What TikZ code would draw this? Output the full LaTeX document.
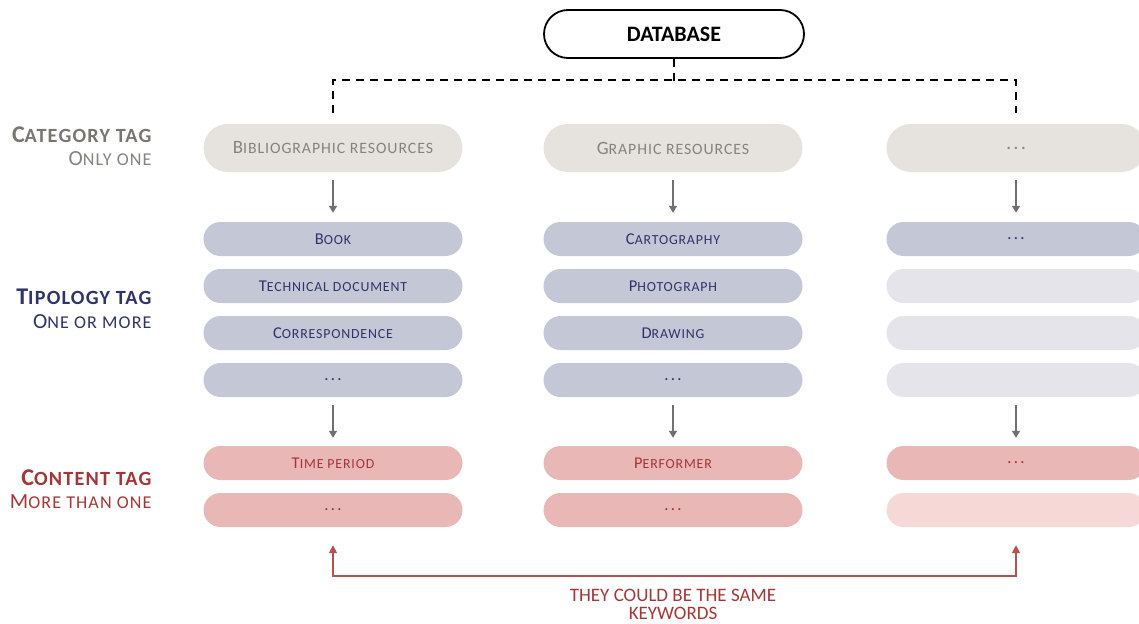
\documentclass[tikz,border=0pt]{standalone}
\usepackage{fontspec}
\setmainfont{Carlito}
\usetikzlibrary{arrows.meta}
\makeatletter
% small capitals built from scaled capitals
\newcommand\smc[1]{{\fontsize{\fpeval{0.84*\f@size}}{0}\selectfont #1}}
\makeatother
\newcommand\spaced{\addfontfeature{LetterSpace=6}}
\newcommand\etc{{\bfseries\addfontfeature{LetterSpace=20}\smc{...}}}
\definecolor{catfill}{HTML}{E6E2DE}
\definecolor{cattext}{HTML}{86827E}
\definecolor{typfill}{HTML}{C3C7D6}
\definecolor{typpale}{HTML}{E4E4EA}
\definecolor{typtext}{HTML}{30336A}
\definecolor{confill}{HTML}{E9B7B6}
\definecolor{conpale}{HTML}{F6D9D7}
\definecolor{context}{HTML}{A33636}
\definecolor{arrowgray}{HTML}{707070}
\definecolor{linkred}{HTML}{B5514E}
\begin{document}
\begin{tikzpicture}[x=1pt,y=-1pt,
  pill/.style={rounded corners=#1, minimum width=259pt, inner sep=0pt, anchor=center},
  catbox/.style={pill=24pt, minimum height=48pt, fill=catfill, text=cattext, font=\fontsize{18.8}{20}\selectfont\spaced},
  typbox/.style={pill=17pt, minimum height=34pt, fill=typfill, text=typtext, font=\fontsize{16.5}{18}\selectfont\spaced},
  typghost/.style={typbox, fill=typpale},
  conbox/.style={pill=17pt, minimum height=34pt, fill=confill, text=context, font=\fontsize{16.5}{18}\selectfont\spaced},
  conghost/.style={conbox, fill=conpale},
  flow/.style={draw=arrowgray, line width=1.6pt, -{Triangle[length=7pt,width=8pt]}},
  headlbl/.style={anchor=east, font=\fontsize{24}{26}\selectfont\bfseries\spaced},
  sublbl/.style={anchor=east, font=\fontsize{21.5}{23}\selectfont\spaced},
]
\useasboundingbox (0,0) rectangle (1139,623);

% root node
\node[draw=black, line width=1.8pt, fill=white, rounded corners=24pt,
      minimum width=260pt, minimum height=48pt, inner sep=0pt,
      font=\fontsize{22}{24}\selectfont\bfseries] (db) at (674,34) {DATABASE};

% column tops of the dashed link
\coordinate (topa) at (333,80);
\coordinate (topc) at (1016,80);

% category row
\node[catbox] (ca) at (333,148) {B\smc{IBLIOGRAPHIC RESOURCES}};
\node[catbox] (cb) at (673,148) {G\smc{RAPHIC RESOURCES}};
\node[catbox] (cc) at (1016,148) {\etc};

% dashed links from the database
\draw[dash pattern=on 8pt off 6pt, line width=1.6pt] (db.south) -- ++(0,22);
\draw[dash pattern=on 8pt off 6pt, line width=1.6pt]
  (ca.north |- 0,113) -- (topa) -- (topc) -- (cc.north |- 0,113);

% typology rows
\node[typbox] (ta1) at (333,239) {B\smc{OOK}};
\node[typbox] (ta2) at (333,286) {T\smc{ECHNICAL DOCUMENT}};
\node[typbox] (ta3) at (333,333) {C\smc{ORRESPONDENCE}};
\node[typbox] (ta4) at (333,380) {\etc};
\node[typbox] (tb1) at (673,239) {C\smc{ARTOGRAPHY}};
\node[typbox] (tb2) at (673,286) {P\smc{HOTOGRAPH}};
\node[typbox] (tb3) at (673,333) {D\smc{RAWING}};
\node[typbox] (tb4) at (673,380) {\etc};
\node[typbox] (tc1) at (1016,239) {\etc};
\node[typghost] (tc2) at (1016,286) {};
\node[typghost] (tc3) at (1016,333) {};
\node[typghost] (tc4) at (1016,380) {};

% content rows
\node[conbox] (na1) at (333,463) {T\smc{IME PERIOD}};
\node[conbox] (na2) at (333,510) {\etc};
\node[conbox] (nb1) at (673,463) {P\smc{ERFORMER}};
\node[conbox] (nb2) at (673,510) {\etc};
\node[conbox] (nc1) at (1016,463) {\etc};
\node[conghost] (nc2) at (1016,510) {};

% downward arrows
\foreach \c in {a,b,c} {
  \draw[flow] ([yshift=-8pt]c\c.south) -- ([yshift=9pt]t\c1.north);
  \draw[flow] ([yshift=-8pt]t\c4.south) -- ([yshift=8pt]n\c1.north);
}

% shared keywords link
\draw[draw=linkred, line width=1.6pt, {Triangle[length=8pt,width=8pt]}-{Triangle[length=8pt,width=8pt]}]
  ([yshift=-18pt]na2.south) -- ([yshift=-49pt]na2.south) -- ([yshift=-49pt]nc2.south) -- ([yshift=-18pt]nc2.south);
\node[text=context, font=\fontsize{19}{21}\selectfont, align=center] (kw) at (673,604)
  {THEY COULD BE THE SAME\\[-3pt]KEYWORDS};

% row labels
\node[headlbl, text=cattext!90!black] (lcat) at (155,135) {C\smc{ATEGORY TAG}};
\node[sublbl, text=cattext] (lcat2) at (155,159) {O\smc{NLY ONE}};
\node[headlbl, text=typtext] (ltyp) at (155,297) {T\smc{IPOLOGY TAG}};
\node[sublbl, text=typtext] (ltyp2) at (155,322) {O\smc{NE OR MORE}};
\node[headlbl, text=context] (lcon) at (155,478) {C\smc{ONTENT TAG}};
\node[sublbl, text=context] (lcon2) at (155,502) {M\smc{ORE THAN ONE}};
\end{tikzpicture}
\end{document}
